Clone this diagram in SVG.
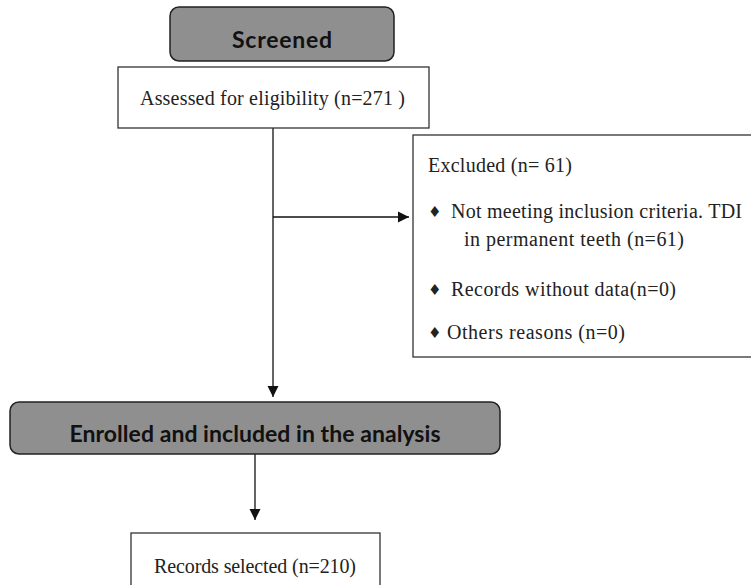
<svg xmlns="http://www.w3.org/2000/svg" width="751" height="585" viewBox="0 0 751 585">
<style>
.gbox{fill:#8f8f8f;stroke:#222;stroke-width:1.5}
.wbox{fill:#fff;stroke:#333;stroke-width:1.3}
.bt{font-family:Lato,"Open Sans","Liberation Sans",sans-serif;font-weight:bold;fill:#111}
.st{font-family:"Liberation Serif","DejaVu Serif",serif;font-size:20px;fill:#222}
.dm{font-family:"DejaVu Sans",sans-serif;font-size:15px;fill:#222}
.ln{stroke:#111;stroke-width:1.3;fill:none}
</style>
<defs>
<marker id="ah" markerWidth="12" markerHeight="12" refX="11" refY="6" orient="auto" markerUnits="userSpaceOnUse">
<path d="M0,0.5 L11,6 L0,11.5 Z" fill="#111"/>
</marker>
</defs>
<rect width="751" height="585" fill="#fff"/>
<g id="connectors">
<line class="ln" x1="273" y1="128" x2="273" y2="397" marker-end="url(#ah)"/>
<line class="ln" x1="273" y1="217" x2="409" y2="217" marker-end="url(#ah)"/>
<line class="ln" x1="255" y1="454" x2="255" y2="520" marker-end="url(#ah)"/>
</g>
<g id="screened">
<rect class="gbox" x="170" y="7" width="224" height="54" rx="9"/>
<text class="bt" x="282" y="48" font-size="23" text-anchor="middle" textLength="100">Screened</text>
</g>
<g id="assessed">
<rect class="wbox" x="118" y="67" width="311" height="61"/>
<text class="st" x="140" y="105" textLength="265">Assessed for eligibility (n=271 )</text>
</g>
<g id="excluded">
<rect class="wbox" x="413" y="135" width="345" height="222"/>
<text class="st" x="428" y="172" textLength="144">Excluded (n= 61)</text>
<text class="dm" x="428" y="217">♦</text>
<text class="st" x="451" y="218" textLength="291">Not meeting inclusion criteria. TDI</text>
<text class="st" x="464" y="246" textLength="220">in permanent teeth (n=61)</text>
<text class="dm" x="428" y="295">♦</text>
<text class="st" x="451" y="296" textLength="225">Records without data(n=0)</text>
<text class="dm" x="428" y="338">♦</text>
<text class="st" x="447" y="339" textLength="178">Others reasons (n=0)</text>
</g>
<g id="enrolled">
<rect class="gbox" x="10" y="402" width="490" height="52" rx="9"/>
<text class="bt" x="255" y="442" font-size="23" text-anchor="middle" textLength="371">Enrolled and included in the analysis</text>
</g>
<g id="records">
<rect class="wbox" x="131" y="533" width="249" height="60"/>
<text class="st" x="255" y="573" text-anchor="middle" textLength="202">Records selected (n=210)</text>
</g>
</svg>
